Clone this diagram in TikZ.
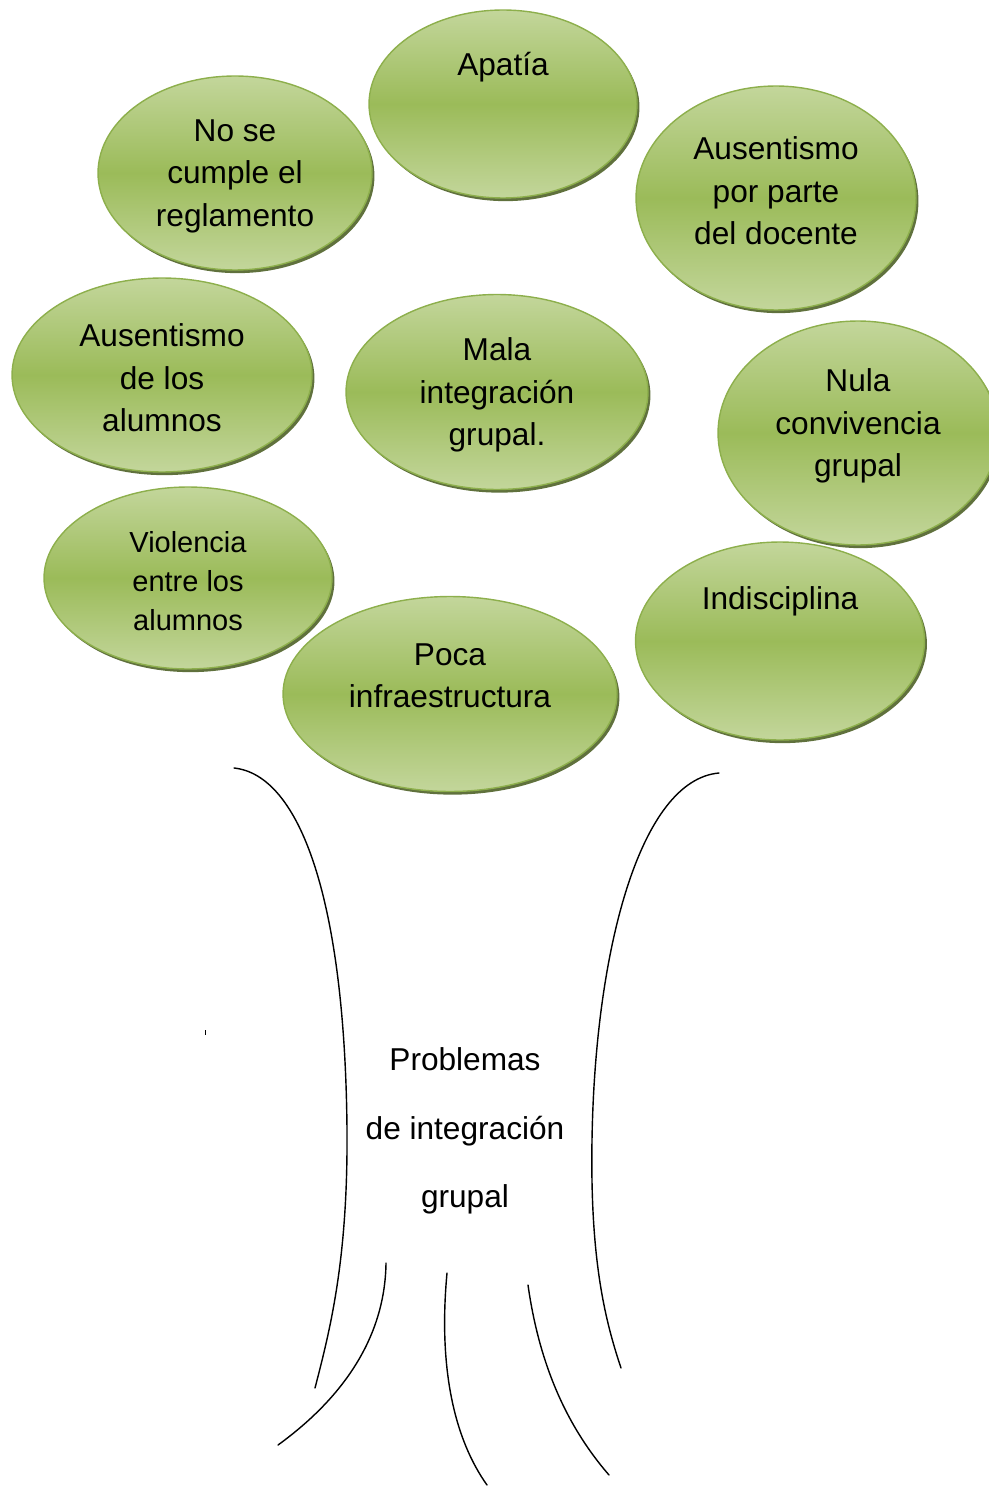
\documentclass[tikz,border=0pt]{standalone}
\usepackage{fontspec}
\setmainfont{Liberation Sans}
\usetikzlibrary{shapes.geometric, shadows, positioning}

\definecolor{leaflight}{HTML}{C3D69B}
\definecolor{leafmid}{HTML}{9BBB59}
\definecolor{leafline}{HTML}{8DAF4C}
\definecolor{leafshadow}{HTML}{4F6228}

\begin{document}
\begin{tikzpicture}[x=0.02cm, y=-0.02cm,
    leaf/.style={ellipse, draw=leafline, line width=0.8pt, inner sep=0pt,
        top color=leaflight, bottom color=leaflight, middle color=leafmid,
        drop shadow={shadow xshift=1.4pt, shadow yshift=-1.8pt, fill=leafshadow, opacity=0.9}},
    word/.style={align=center, yshift=-0.06cm, font=\fontsize{18}{24.2}\selectfont},
    trunk/.style={line width=0.8pt, line cap=round}]
        \useasboundingbox (0,0) rectangle (988,1486);

        % leaves
        \node[leaf, minimum width=5.36cm, minimum height=3.76cm] (n1) at (503,104) {};
        \node[leaf, minimum width=5.48cm, minimum height=3.88cm] (n2) at (235,173) {};
        \node[leaf, minimum width=5.6cm, minimum height=4.48cm] (n3) at (776,198) {};
        \node[leaf, minimum width=6.0cm, minimum height=3.88cm] (n4) at (162,375) {};
        \node[leaf, minimum width=6.04cm, minimum height=3.9cm] (n5) at (497,392) {};
        \node[leaf, minimum width=5.6cm, minimum height=4.48cm] (n6) at (858,433) {};
        \node[leaf, minimum width=5.76cm, minimum height=3.64cm] (n7) at (188,578) {};
        \node[leaf, minimum width=6.68cm, minimum height=3.9cm] (n8) at (450,694) {};
        \node[leaf, minimum width=5.78cm, minimum height=3.96cm] (n9) at (780,641) {};

        \node[word] (t1) at (503,64) {Apatía};
        \node[word] (t2) at (235,173) {No se\\cumple el\\reglamento};
        \node[word] (t3) at (776,188) {Ausentismo\\por parte\\del docente};
        \node[word] (t4) at (162,375) {Ausentismo\\de los\\alumnos};
        \node[word] (t5) at (497,392) {Mala\\integración\\grupal.};
        \node[word] (t6) at (858,423) {Nula\\convivencia\\grupal};
        \node[word, font=\fontsize{16.5}{22}\selectfont] (t7) at (188,578) {Violencia\\entre los\\alumnos};
        \node[word] (t8) at (450,673) {Poca\\infraestructura};
        \node[word] (t9) at (780,598) {Indisciplina};

        % trunk
        \draw[trunk] (234,768) .. controls (300,775) and (345,900) .. (347,1130)
          .. controls (348,1260) and (330,1330) .. (315,1388);
        \draw[trunk] (719,773) .. controls (640,780) and (595,950) .. (592,1140)
          .. controls (590,1260) and (605,1320) .. (621,1368);
        \draw[trunk] (386,1263) .. controls (385,1340) and (340,1400) .. (278,1445);
        \draw[trunk] (447,1273) .. controls (438,1370) and (455,1440) .. (487,1485);
        \draw[trunk] (528,1285) .. controls (540,1370) and (570,1430) .. (609,1475);
        \fill (204.5,1030) rectangle (206,1035);

        \node[word, font=\fontsize{18}{39}\selectfont] (root) at (465,1128) {Problemas\\de integración\\grupal};
      \end{tikzpicture}
\end{document}
